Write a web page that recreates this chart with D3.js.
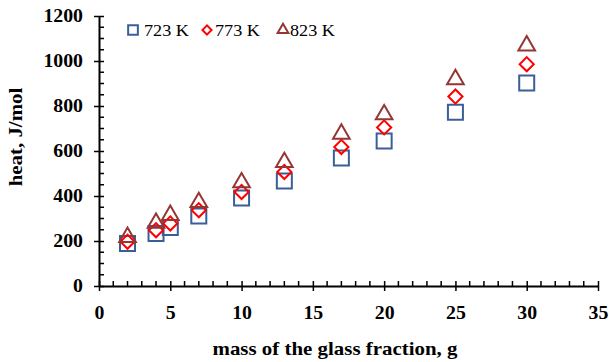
<!DOCTYPE html>
<html>
<head>
<meta charset="utf-8">
<script src="https://cdn.jsdelivr.net/npm/d3@7"></script>
<style>
  body { margin: 0; background: #fff; }
  text { font-family: "Liberation Serif", "Times New Roman", serif; }
</style>
</head>
<body>
<div id="chart"></div>
<script>
const mass = [2, 4, 5, 7, 10, 13, 17, 20, 25, 30];
const heat723 = [189, 233, 260, 311, 391, 467, 569, 644, 772, 902];
const heat773 = [197, 248, 278, 337, 418, 507, 618, 705, 842, 986];
const heat823 = [217, 280, 315, 372, 460, 550, 676, 762, 918, 1068];
const seriesNames = ["723 K", "773 K", "823 K"];
const xTicks = [0, 5, 10, 15, 20, 25, 30, 35];
const yTicks = [0, 200, 400, 600, 800, 1000, 1200];

const width = 609, height = 362;
const plotLeft = 99, plotRight = 598, plotTop = 16, plotBottom = 286;

const svg = d3.select("#chart").append("svg")
  .attr("width", width).attr("height", height);

const x = d3.scaleLinear().domain([0, 35]).range([plotLeft, plotRight]);
const y = d3.scaleLinear().domain([0, 1200]).range([plotBottom, plotTop]);

// minor ticks
svg.append("g").selectAll("line")
  .data(d3.range(0, 36, 1).filter(d => d % 5 !== 0))
  .enter().append("line")
  .attr("x1", d => x(d)).attr("x2", d => x(d))
  .attr("y1", plotBottom).attr("y2", plotBottom - 5)
  .attr("stroke", "#000").attr("stroke-width", 1.5);
svg.append("g").selectAll("line")
  .data(d3.range(0, 1201, 50).filter(d => d % 200 !== 0))
  .enter().append("line")
  .attr("x1", plotLeft).attr("x2", plotLeft + 5)
  .attr("y1", d => y(d)).attr("y2", d => y(d))
  .attr("stroke", "#000").attr("stroke-width", 1.5);

// axes
const xAxis = svg.append("g")
  .attr("transform", "translate(0," + plotBottom + ")")
  .call(d3.axisBottom(x).tickValues(xTicks).tickFormat(d3.format("d"))
    .tickSizeInner(5).tickSizeOuter(0).tickPadding(15));
xAxis.selectAll(".tick line").attr("y1", -5).attr("stroke-width", 1.5);
const yAxis = svg.append("g")
  .attr("transform", "translate(" + plotLeft + ",0)")
  .call(d3.axisLeft(y).tickValues(yTicks).tickFormat(d3.format("d"))
    .tickSizeInner(5).tickSizeOuter(0).tickPadding(11));
yAxis.selectAll(".tick line").attr("x1", 5).attr("stroke-width", 1.5);

[xAxis, yAxis].forEach(function(a) {
  a.attr("font-family", "Liberation Serif")
    .attr("font-size", 18)
    .attr("font-weight", "bold");
  a.select(".domain").attr("stroke-width", 2);
  a.selectAll("text")
    .attr("fill", "#000")
    .style("font-family", "'Liberation Serif', serif")
    .style("font-size", "18px")
    .style("font-weight", "bold");
});

// axis titles
svg.append("text")
  .attr("x", 335).attr("y", 355)
  .attr("text-anchor", "middle")
  .style("font-size", "19px").style("font-weight", "bold")
  .text("mass of the glass fraction, g");
svg.append("text")
  .attr("transform", "translate(22,137) rotate(-90)")
  .attr("text-anchor", "middle")
  .style("font-size", "19px").style("font-weight", "bold")
  .text("heat, J/mol");

// markers
const colors = ["#3a5f98", "#ff0000", "#943634"];
const shapes = [d3.symbolSquare, d3.symbolSquare, d3.symbolTriangle];
const rotations = [0, 45, 0];
const sizes = [225, 100, 120];
const allSeries = [heat723, heat773, heat823];

allSeries.forEach(function(vals, s) {
  const sym = d3.symbol().type(shapes[s]).size(sizes[s]);
  svg.append("g").selectAll("path")
    .data(vals)
    .enter().append("path")
    .attr("d", sym)
    .attr("transform", function(d, i) {
      return "translate(" + x(mass[i]) + "," + y(d) + ") rotate(" + rotations[s] + ")";
    })
    .attr("fill", "none")
    .attr("stroke", colors[s])
    .attr("stroke-width", 2);
});

// legend
const legendX = [133, 207, 283];
const legendTextX = [144, 215, 290];
seriesNames.forEach(function(name, s) {
  const sym = d3.symbol().type(shapes[s]).size(sizes[s] * 0.42);
  svg.append("path")
    .attr("d", sym)
    .attr("transform", "translate(" + legendX[s] + ",30) rotate(" + rotations[s] + ")")
    .attr("fill", "none").attr("stroke", colors[s]).attr("stroke-width", 2);
  svg.append("text")
    .attr("x", legendTextX[s]).attr("y", 36)
    .style("font-size", "16.5px")
    .text(name);
});

// the source picture is a little wide, so stretch every text horizontally
svg.selectAll("text").each(function() {
  const w = this.getComputedTextLength();
  d3.select(this).attr("textLength", w * 1.1).attr("lengthAdjust", "spacingAndGlyphs");
});
</script>
</body>
</html>
